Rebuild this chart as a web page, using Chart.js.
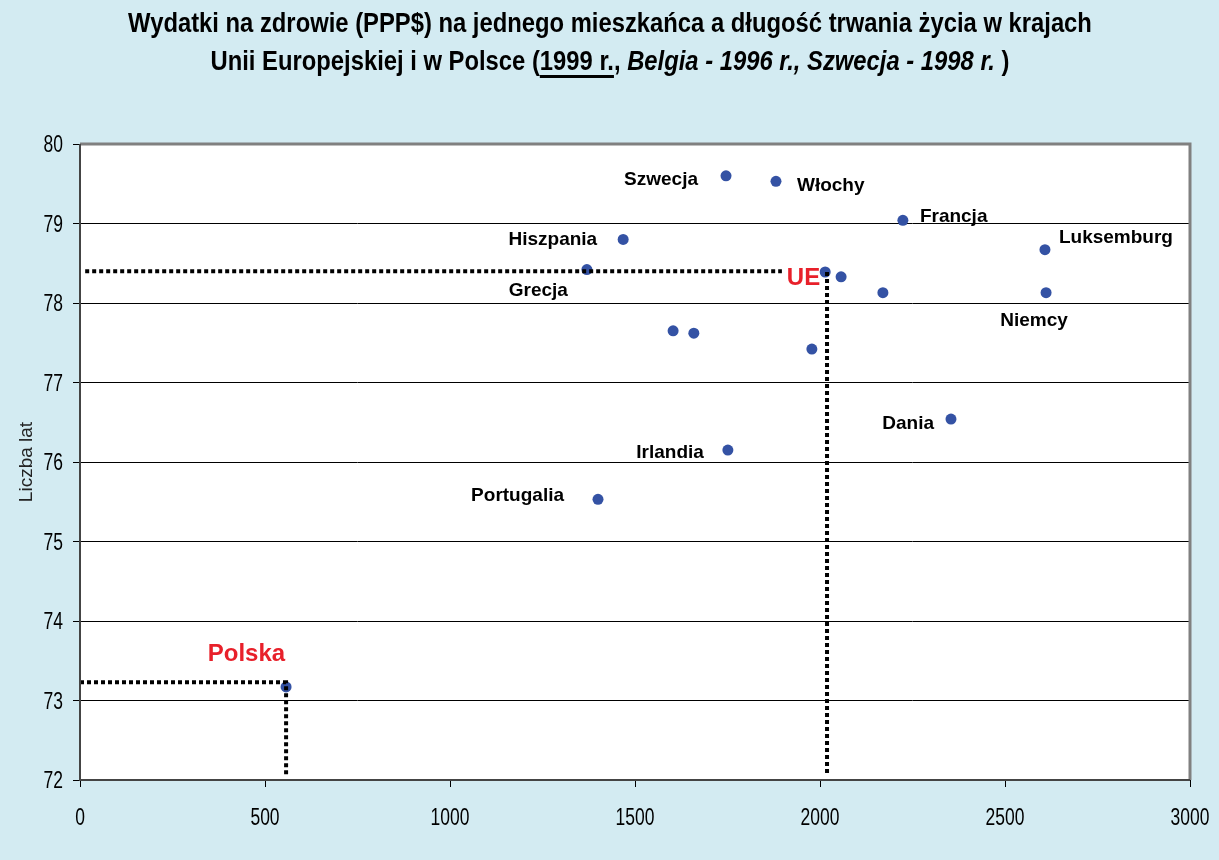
<!DOCTYPE html>
<html>
<head>
<meta charset="utf-8">
<script src="https://cdn.jsdelivr.net/npm/chart.js@4/dist/chart.umd.min.js"></script>
<style>
  body { margin: 0; background: #d3ebf2; }
  #wrap { width: 1219px; height: 860px; }
</style>
</head>
<body>
<div id="wrap"><canvas id="lifeChart" width="1219" height="860"></canvas></div>
<script>
// --- DATA ---
const countries = ['Szwecja', 'Włochy', 'Francja', 'Luksemburg', 'Hiszpania', 'Grecja', 'UE', '', '', 'Niemcy',
                   '', '', '', 'Dania', 'Irlandia', 'Portugalia', 'Polska'];
const spending  = [1746, 1881, 2224, 2608, 1468, 1370, 2014, 2057, 2170, 2611,
                   1603, 1659, 1978, 2354, 1751, 1400, 557];
const lifeYears = [79.60, 79.53, 79.04, 78.67, 78.80, 78.42, 78.39, 78.33, 78.13, 78.13,
                   77.65, 77.62, 77.42, 76.54, 76.15, 75.53, 73.17];

const xTicks = [0, 500, 1000, 1500, 2000, 2500, 3000];
const yTicks = [72, 73, 74, 75, 76, 77, 78, 79, 80];

// reference lines (dashed)
const polskaRefX = [0, 557, 557];
const polskaRefY = [73.23, 73.23, 72.06];
const ueRefHX = [14, 1897];
const ueRefHY = [78.40, 78.40];
const ueRefVX = [2019, 2019];
const ueRefVY = [78.39, 72.06];

// label placement, pixels relative to the point: [dx, dy, align]
const labelPlace = {
  'Szwecja':    [-28, 4, 'right'],
  'Włochy':     [21, 4, 'left'],
  'Francja':    [17, -4, 'left'],
  'Luksemburg': [14, -12, 'left'],
  'Hiszpania':  [-26, 0, 'right'],
  'Grecja':     [-19, 21, 'right'],
  'Niemcy':     [-12, 28, 'center'],
  'Dania':      [-17, 5, 'right'],
  'Irlandia':   [-24, 3, 'right'],
  'Portugalia': [-34, -4, 'right'],
  'UE':         [-5, 6, 'right'],
  'Polska':     [-1, -33, 'right']
};

const SANS = "'Liberation Sans', Arial, sans-serif";

function pts(xs, ys) {
  return xs.map((x, i) => ({ x: x, y: ys[i] }));
}

function dashed(xs, ys) {
  return {
    type: 'line',
    data: pts(xs, ys),
    showLine: true,
    borderColor: '#000',
    borderWidth: 4,
    borderDash: [4, 3],
    borderCapStyle: 'butt',
    pointRadius: 0,
    fill: false
  };
}

// condensed text: Arial Narrow is not installed, so squeeze Liberation Sans
function narrowText(ctx, text, x, y, squeeze) {
  ctx.save();
  ctx.translate(x, y);
  ctx.scale(squeeze, 1);
  ctx.fillText(text, 0, 0);
  ctx.restore();
}

// --- PLUGIN: background, title, frame, labels ---
const decor = {
  id: 'decor',
  beforeDraw(chart) {
    const ctx = chart.ctx;
    ctx.save();
    ctx.fillStyle = '#d3ebf2';
    ctx.fillRect(0, 0, chart.width, chart.height);
    const a = chart.chartArea;
    ctx.fillStyle = '#fff';
    ctx.fillRect(a.left, a.top, a.right - a.left, a.bottom - a.top);
    ctx.restore();
  },
  afterDatasetsDraw(chart) {
    const ctx = chart.ctx;
    const a = chart.chartArea;
    const xs = chart.scales.x, ys = chart.scales.y;
    ctx.save();

    // frame
    ctx.lineWidth = 3;
    ctx.strokeStyle = '#808080';
    ctx.beginPath();
    ctx.moveTo(a.left, a.top); ctx.lineTo(a.right, a.top); ctx.lineTo(a.right, a.bottom);
    ctx.stroke();
    ctx.lineWidth = 2;
    ctx.strokeStyle = '#444';
    ctx.beginPath();
    ctx.moveTo(a.left, a.top); ctx.lineTo(a.left, a.bottom); ctx.lineTo(a.right, a.bottom);
    ctx.stroke();

    // tick labels (condensed)
    ctx.fillStyle = '#000';
    ctx.font = '23px ' + SANS;
    ctx.textBaseline = 'alphabetic';
    ctx.textAlign = 'right';
    yTicks.forEach(v => narrowText(ctx, String(v), 63, ys.getPixelForValue(v) + 8, 0.76));
    ctx.textAlign = 'center';
    xTicks.forEach(v => narrowText(ctx, String(v), xs.getPixelForValue(v), 825, 0.76));

    // point labels
    ctx.textBaseline = 'middle';
    countries.forEach((name, i) => {
      const p = labelPlace[name];
      if (!name || !p) return;
      const red = name === 'UE' || name === 'Polska';
      ctx.font = red ? 'bold 24px ' + SANS : 'bold 19px ' + SANS;
      ctx.fillStyle = red ? '#e8202a' : '#000';
      ctx.textAlign = p[2];
      ctx.fillText(name, xs.getPixelForValue(spending[i]) + p[0], ys.getPixelForValue(lifeYears[i]) + p[1]);
    });

    // y axis title
    ctx.translate(27, (a.top + a.bottom) / 2);
    ctx.rotate(-Math.PI / 2);
    ctx.textAlign = 'center';
    ctx.font = '19px ' + SANS;
    ctx.fillStyle = '#222';
    ctx.fillText('Liczba lat', 0, 0);
    ctx.restore();

    // title
    const sq = 0.85;
    ctx.save();
    ctx.fillStyle = '#000';
    ctx.textBaseline = 'alphabetic';
    ctx.textAlign = 'center';
    ctx.font = 'bold 28px ' + SANS;
    narrowText(ctx, 'Wydatki na zdrowie (PPP$) na jednego mieszkańca a długość trwania życia w krajach', 610, 32, sq);

    const runs = [
      ['Unii Europejskiej i w Polsce (', 'bold', false],
      ['1999 r.', 'bold', true],
      [', ', 'bold', false],
      ['Belgia - 1996 r., Szwecja - 1998 r.', 'italic bold', false],
      [' )', 'bold', false]
    ];
    let total = 0;
    runs.forEach(r => { ctx.font = r[1] + ' 28px ' + SANS; r.push(ctx.measureText(r[0]).width * sq); total += r[3]; });
    let x = 610 - total / 2;
    ctx.textAlign = 'left';
    runs.forEach(r => {
      ctx.font = r[1] + ' 28px ' + SANS;
      narrowText(ctx, r[0], x, 70, sq);
      if (r[2]) ctx.fillRect(x, 75, r[3], 3);
      x += r[3];
    });
    ctx.restore();
  }
};

new Chart(document.getElementById('lifeChart'), {
  type: 'scatter',
  data: {
    datasets: [
      dashed(polskaRefX, polskaRefY),
      dashed(ueRefHX, ueRefHY),
      dashed(ueRefVX, ueRefVY),
      {
        data: pts(spending, lifeYears),
        pointStyle: 'circle',
        pointRadius: 5.5,
        pointHoverRadius: 5.5,
        backgroundColor: '#3452a4',
        borderColor: '#3452a4',
        borderWidth: 0
      }
    ]
  },
  options: {
    responsive: false,
    animation: false,
    events: [],
    layout: { padding: { top: 144, right: 29, left: 0, bottom: 0 } },
    plugins: { legend: { display: false }, title: { display: false }, tooltip: { enabled: false } },
    scales: {
      x: {
        type: 'linear',
        min: 0, max: 3000,
        afterBuildTicks: s => { s.ticks = xTicks.map(v => ({ value: v })); },
        afterFit: s => { s.height = 80; },
        border: { display: false },
        grid: { drawOnChartArea: false, tickLength: 7, tickColor: '#000', tickWidth: 1 },
        ticks: { display: false }
      },
      y: {
        type: 'linear',
        min: 72, max: 80,
        afterBuildTicks: s => { s.ticks = yTicks.map(v => ({ value: v })); },
        afterFit: s => { s.width = 80; },
        border: { display: false },
        grid: { color: '#000', lineWidth: 1, tickLength: 7, tickColor: '#000' },
        ticks: { display: false }
      }
    }
  },
  plugins: [decor]
});
</script>
</body>
</html>
